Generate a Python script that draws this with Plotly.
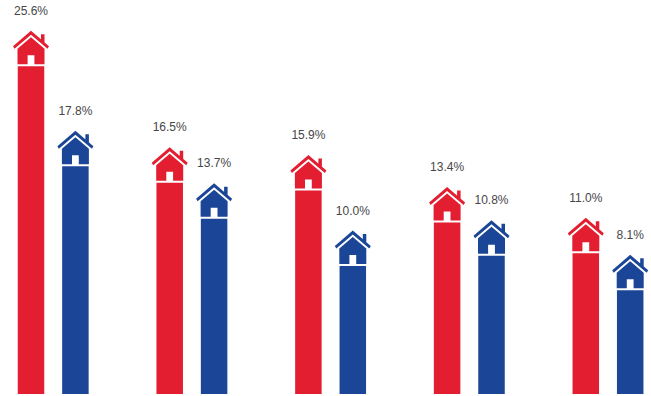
import plotly.graph_objects as go

# Percentages per group, two series
red_values = [25.6, 16.5, 15.9, 13.4, 11.0]
blue_values = [17.8, 13.7, 10.0, 10.8, 8.1]
groups = [0, 1, 2, 3, 4]

RED = "#E21E30"
BLUE = "#1B4697"
W, H = 651, 396
PX_PER_X = 138.7      # pixels per group step
PX_PER_Y = 12.8       # pixels per percentage point
FIRST_GROUP_PX = 53.2
BAR_OFFSET = 22.2 / PX_PER_X
BAR_WIDTH = 26.5 / PX_PER_X

# House outline, in pixels relative to the bar's top-centre (dx right, dy up)
ROOF = [(0, 35.5), (18, 20), (16.5, 17.5), (0, 31.5), (-16.5, 17.5), (-18, 20), (0, 35.5)]
BODY = [(0, 29), (13.5, 17.5), (13.5, 2), (3.4, 2), (3.4, 11), (-3.4, 11), (-3.4, 2),
        (-13.5, 2), (-13.5, 17.5), (0, 29)]
CHIMNEY = [(10, 32), (13.5, 32), (13.5, 23), (10, 26), (10, 32)]
HOUSE_PARTS = [ROOF, BODY, CHIMNEY]
LABEL_RISE = 54.5


def house_outline(x_center, value):
    xs, ys = [], []
    for part in HOUSE_PARTS:
        xs += [x_center + dx / PX_PER_X for dx, _ in part] + [None]
        ys += [value + dy / PX_PER_Y for _, dy in part] + [None]
    return xs, ys


fig = go.Figure()
for values, offset, color in [(red_values, -BAR_OFFSET, RED), (blue_values, BAR_OFFSET, BLUE)]:
    centers = [g + offset for g in groups]
    fig.add_bar(x=centers, y=values, width=BAR_WIDTH, marker_color=color,
                marker_line_width=0, showlegend=False, hoverinfo="skip")
    for cx, v in zip(centers, values):
        hx, hy = house_outline(cx, v)
        fig.add_scatter(x=hx, y=hy, mode="lines", fill="toself", fillcolor=color,
                        line=dict(width=0, color=color), showlegend=False, hoverinfo="skip")
    fig.add_scatter(x=centers, y=[v + LABEL_RISE / PX_PER_Y for v in values],
                    mode="text", text=[f"{v:.1f}%" for v in values],
                    textposition="middle center",
                    textfont=dict(family="Liberation Sans, Arial, sans-serif", size=12, color="#464648"),
                    showlegend=False, hoverinfo="skip", cliponaxis=False)

fig.update_layout(
    width=W, height=H,
    margin=dict(l=0, r=0, t=0, b=0),
    paper_bgcolor="white", plot_bgcolor="white",
    xaxis=dict(range=[-FIRST_GROUP_PX / PX_PER_X, (W - FIRST_GROUP_PX) / PX_PER_X], visible=False),
    yaxis=dict(range=[-2 / PX_PER_Y, 394 / PX_PER_Y], visible=False),
)
fig.write_html("out.html", config=dict(displayModeBar=False))
